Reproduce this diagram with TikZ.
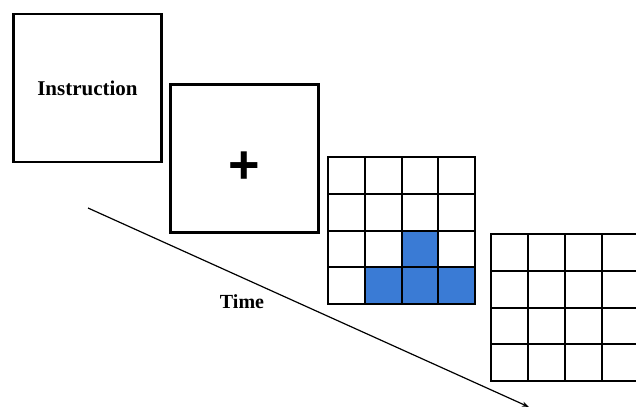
\documentclass[tikz,border=0pt]{standalone}
\usepackage{fontspec}
\setmainfont{Liberation Serif}
\newfontfamily\plusfont{Liberation Sans}
\usetikzlibrary{arrows.meta, positioning}
\definecolor{cellblue}{HTML}{3A7BD5}

\begin{document}
\begin{tikzpicture}[x=1pt, y=-1pt,
  screen/.style={draw, line width=2.6pt, minimum width=148pt, minimum height=148pt, inner sep=0pt},
  cell/.style={draw, line width=2pt, minimum size=36.75pt, inner sep=0pt, anchor=north west},
  filled/.style={cell, fill=cellblue}]
\useasboundingbox (0,0) rectangle (636,409);
\node (instr) [screen, font=\fontsize{21}{24}\selectfont\bfseries] at (87.5,88) {Instruction};
\node (fix) [screen, font=\plusfont\bfseries\fontsize{54}{54}\selectfont] at (244.5,158.5) {\raisebox{-25pt}[0pt][0pt]{+}};
% grid with the target pattern
\foreach \r in {0,...,3}
  \foreach \c in {0,...,3}
    \node (cue-\r-\c) [cell] at (327+36.75*\c, 156+36.75*\r) {};
\node (blue-2-2) [filled] at (327+36.75*2, 156+36.75*2) {};
\foreach \c in {1,2,3}
  \node (blue-3-\c) [filled] at (327+36.75*\c, 156+36.75*3) {};
% empty response grid
\foreach \r in {0,...,3}
  \foreach \c in {0,...,3}
    \node (resp-\r-\c) [cell] at (490+36.9*\c, 233+36.75*\r) {};
\coordinate (tstart) at (88,208);
\coordinate (tend) at (529,407);
\draw[-{Stealth[length=7pt, width=5pt]}, line width=1.2pt] (tstart) -- (tend);
\node (time) [font=\fontsize{20}{24}\selectfont\bfseries] at (242,302) {Time};
\end{tikzpicture}
\end{document}
